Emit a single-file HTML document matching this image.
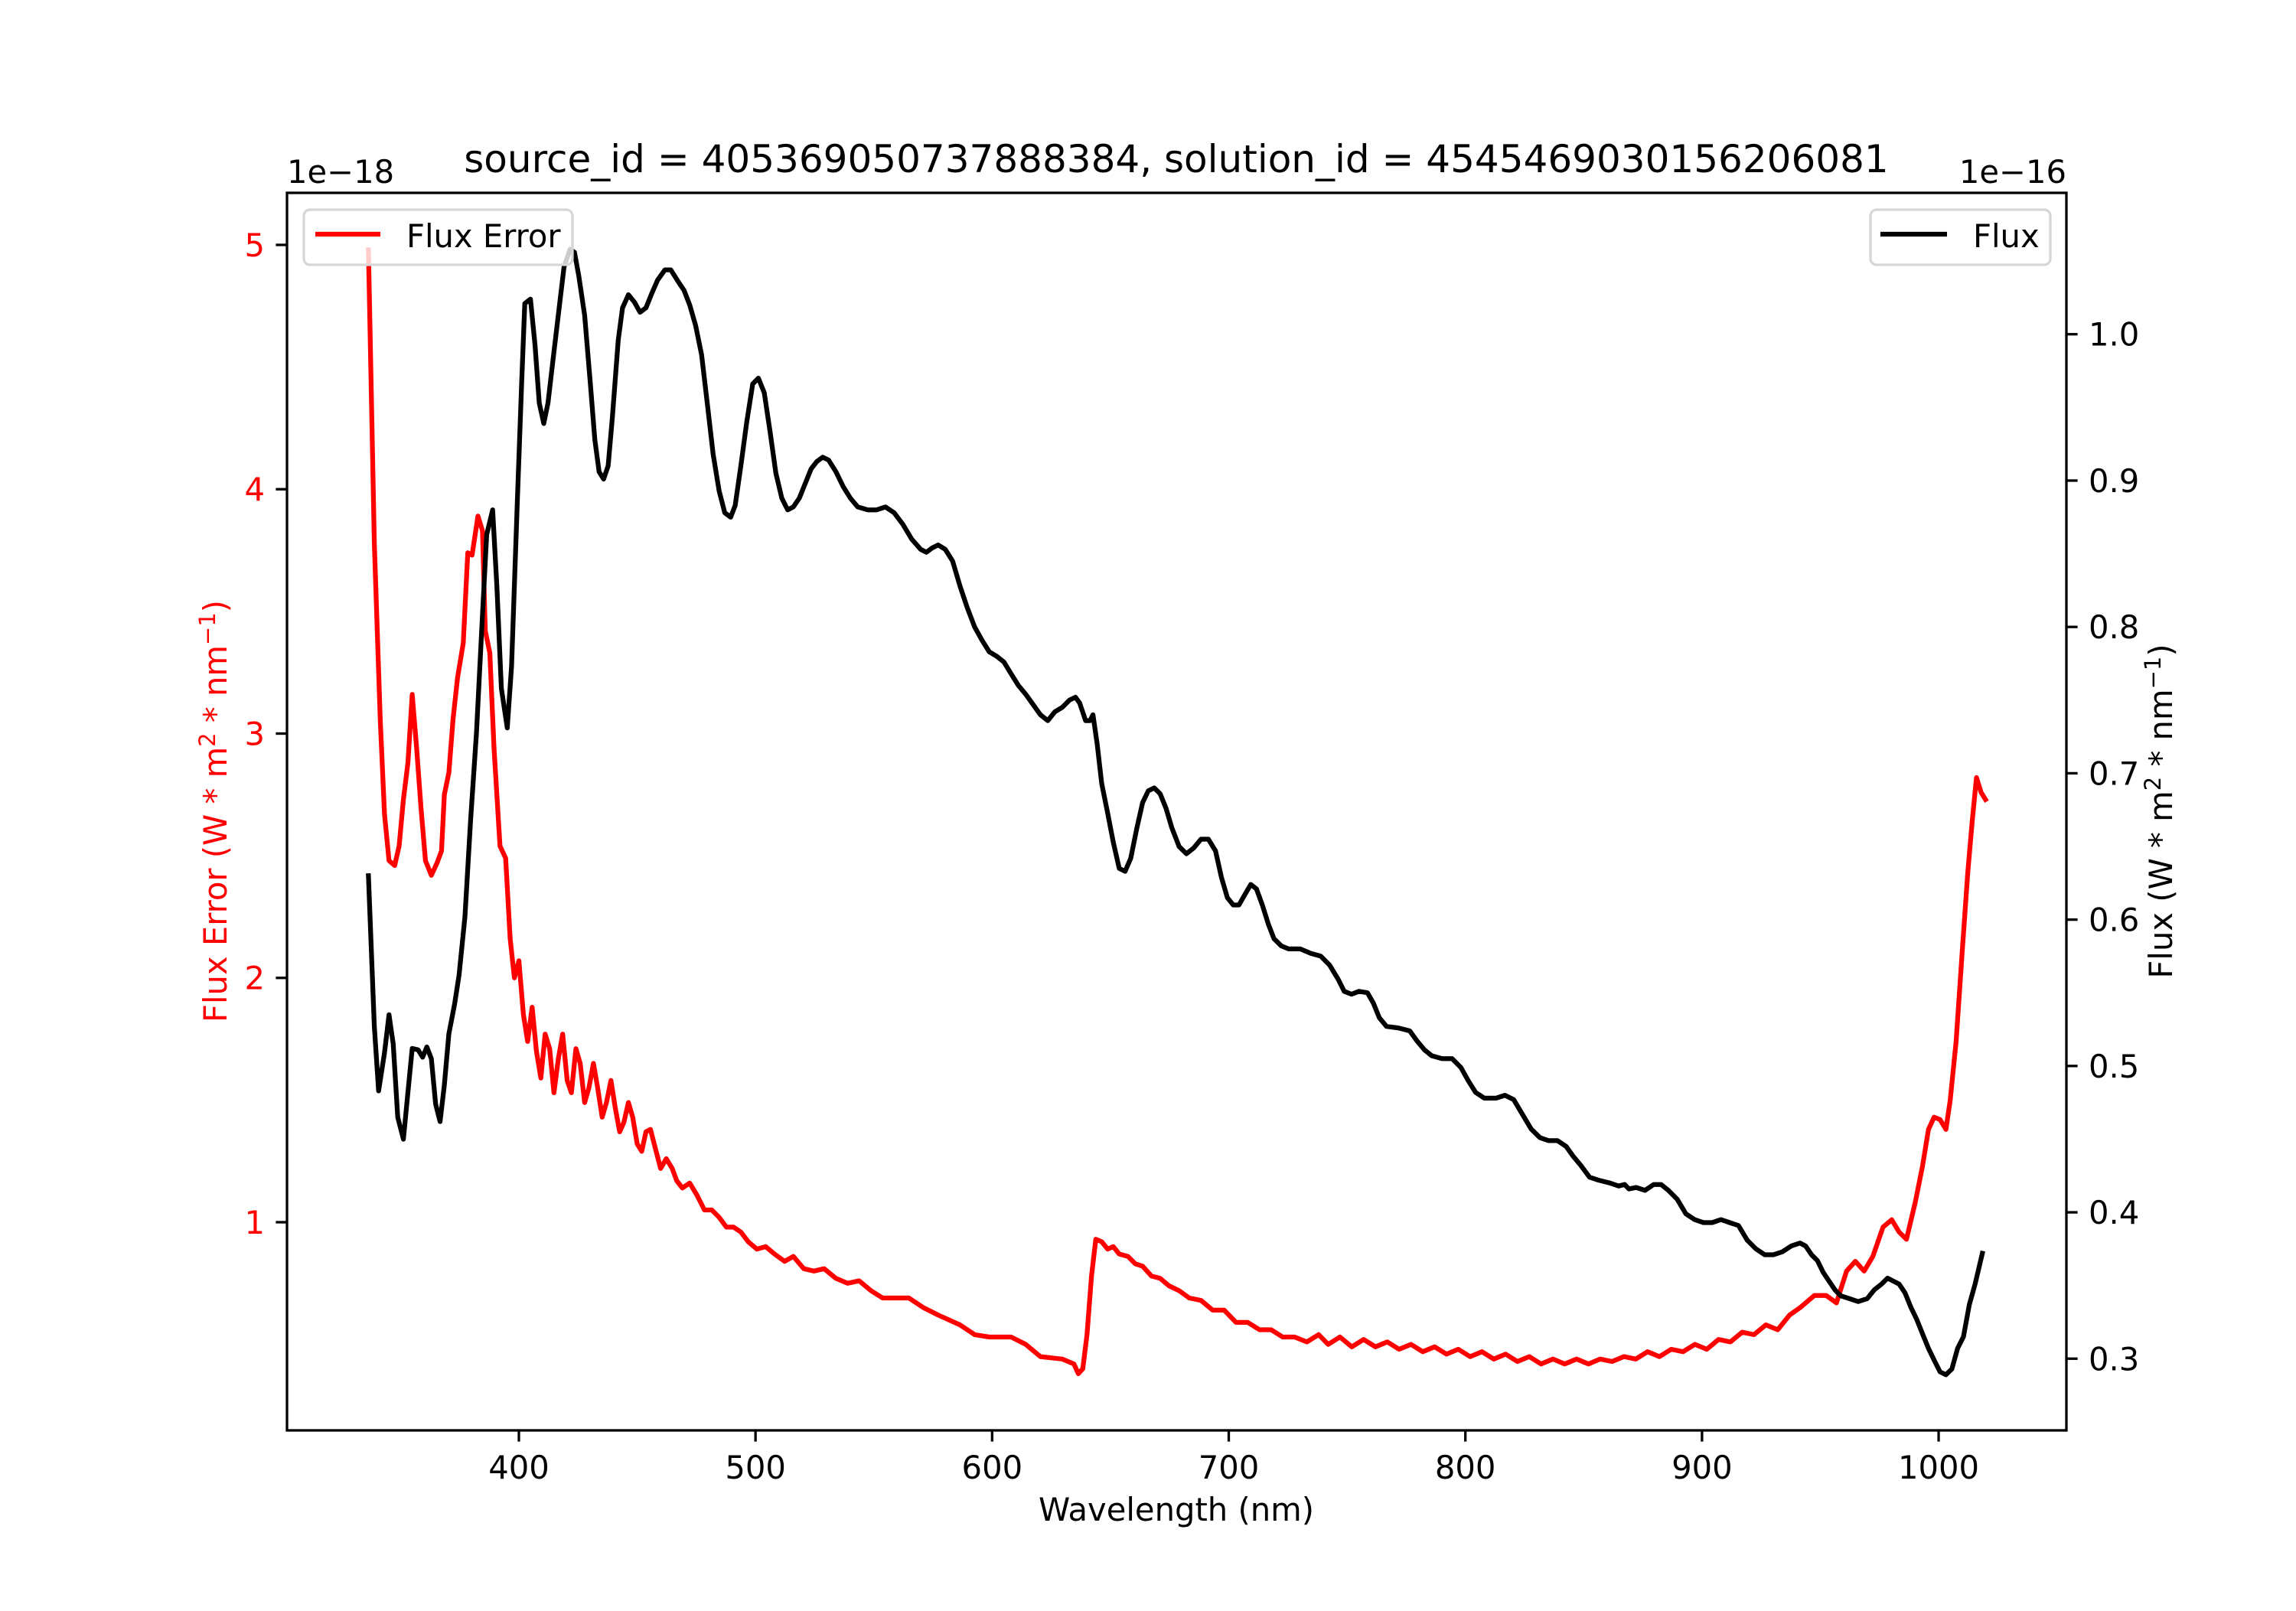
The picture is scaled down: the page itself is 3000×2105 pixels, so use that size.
<!DOCTYPE html>
<html><head><meta charset="utf-8"><style>
html,body{margin:0;padding:0;background:#fff;}
svg text{font-family:"DejaVu Sans","Liberation Sans",sans-serif;}
</style></head><body>
<svg id="chart" width="3000" height="2100" viewBox="0 0 3000 2100" xmlns="http://www.w3.org/2000/svg">
<rect width="3000" height="2100" fill="#fff"/>
<g id="plot"></g>
</svg>
<script>
const errWl=[336.4,338.9,341.4,343.2,345.1,347.5,349.4,351.2,353.1,354.9,356.8,358.6,360.5,363,365.4,367.3,368.5,370.4,372.2,374.1,376.5,378.4,380.2,382.7,384.6,385.8,387.7,389.5,392,394.4,396.3,398.1,400,401.9,403.7,405.6,407.4,409.3,411.1,413,414.8,416.7,418.5,420.4,422.2,424.1,425.9,427.8,429.6,431.5,433.3,435.2,437,438.9,440.7,442.6,444.4,446.3,448.1,450,451.9,453.7,455.6,458,459.9,462.3,464.8,466.7,469.1,472.2,475.3,478.4,481.5,484.6,487.7,490.7,493.8,496.9,500.6,504.3,508,512.3,516,520.4,524.7,529,534,538.9,543.8,548.8,553.7,558.6,564.8,571,577.2,586.4,592.6,598.8,608,614.2,620.4,629.6,634.6,636.4,638.3,640.1,642,643.8,646.3,648.8,651.2,653.7,657.4,660.5,663.6,667.3,671,674.7,679,683.3,688.3,693.2,698.1,703.1,708,713,717.9,722.8,727.8,733,738,742,747,752,757,762,767,772,777,782,787,792,797,802,807,812,817,822,827,832,837,842,847,852,857,862,867,872,877,882,887,892,897,902,907,912,917,922,927,932,937,941.4,947.5,952.5,956.8,961.1,964.8,968.5,972.2,976.5,980.2,983.3,986.4,990.1,993.2,995.7,998.1,1000.6,1003.1,1004.9,1007.4,1009.9,1012.3,1014.2,1016,1017.9,1019.8];
const errVal=[4.98,3.78,3.06,2.67,2.48,2.46,2.54,2.73,2.88,3.16,2.94,2.70,2.48,2.42,2.47,2.52,2.75,2.84,3.06,3.23,3.37,3.74,3.73,3.89,3.83,3.42,3.33,2.94,2.54,2.49,2.16,2.0,2.07,1.85,1.74,1.88,1.70,1.59,1.77,1.71,1.53,1.67,1.77,1.58,1.53,1.71,1.65,1.49,1.55,1.65,1.55,1.43,1.49,1.58,1.47,1.37,1.41,1.49,1.43,1.32,1.29,1.37,1.38,1.29,1.22,1.26,1.22,1.17,1.14,1.16,1.11,1.05,1.05,1.02,0.98,0.98,0.96,0.92,0.89,0.90,0.87,0.84,0.86,0.81,0.80,0.81,0.77,0.75,0.76,0.72,0.69,0.69,0.69,0.65,0.62,0.58,0.54,0.53,0.53,0.50,0.45,0.44,0.42,0.38,0.40,0.54,0.78,0.93,0.92,0.89,0.90,0.87,0.86,0.83,0.82,0.78,0.77,0.74,0.72,0.69,0.68,0.64,0.64,0.59,0.59,0.56,0.56,0.53,0.53,0.51,0.54,0.50,0.53,0.49,0.52,0.49,0.51,0.48,0.50,0.47,0.49,0.46,0.48,0.45,0.47,0.44,0.46,0.43,0.45,0.42,0.44,0.42,0.44,0.42,0.44,0.43,0.45,0.44,0.47,0.45,0.48,0.47,0.50,0.48,0.52,0.51,0.55,0.54,0.58,0.56,0.62,0.65,0.70,0.70,0.67,0.80,0.84,0.80,0.86,0.98,1.01,0.96,0.93,1.08,1.23,1.38,1.43,1.42,1.38,1.50,1.74,2.10,2.43,2.64,2.82,2.76,2.73];
const fluxWl=[336.4,338.9,340.7,343.2,345.1,346.9,348.8,351.2,353.1,354.9,357.4,359.3,361.1,363,364.8,366.7,368.5,370.4,372.8,374.7,377.2,379.6,382.1,384.6,386.4,388.9,390.7,392.6,395.1,396.9,399.4,401.2,402.5,404.9,406.8,408.6,410.5,412.3,414.8,417.3,419.1,421.6,423.5,425.3,427.8,430.2,432.1,433.9,435.8,437.7,439.5,442,443.8,446.3,448.8,451.2,453.7,456.2,458.6,461.7,464.2,467.3,469.8,472.2,474.7,477.2,479.6,482.1,484.6,487,489.5,491.4,493.8,496.3,498.8,501.2,503.7,506.2,508.6,511.1,513.6,516,518.5,521,523.5,525.9,528.4,530.9,534,537,540.1,543.2,547.5,551.2,554.9,558.6,562.3,566,569.8,572.2,574.7,577.2,580.2,583.3,586.4,589.5,592.6,595.7,598.8,601.9,605,608,611.1,614.2,617.3,620.4,623.5,626.5,629.6,632.7,635.2,637,639.5,641.4,642.6,644.4,646.3,648.8,651.2,653.7,656.2,658.6,661.1,663.6,666,668.5,671,673.5,675.9,679,682.1,685.2,688.3,691.4,694.4,696.9,699.4,701.9,704.3,706.8,709.3,711.7,714.2,716.7,719.1,722.2,725.3,730.2,734.6,738.9,742.6,746.3,748.8,751.9,755,758.6,761.1,763.6,766.7,771.6,776.5,779.6,782.7,785.8,790.1,794.4,798.1,801.2,804.3,808,813,816.7,820.4,824.1,827.8,831.5,835.2,838.9,842.6,845.7,848.8,852.5,856.2,861.1,864.8,867.3,869.1,872.2,875.9,879.6,882.7,885.8,889.5,893.2,896.9,900.6,904.3,908,911.7,915.4,919.1,922.8,926.5,930.2,933.9,937.7,941.4,943.8,946.3,948.8,951.2,953.7,956.2,958.6,962.3,966,969.8,972.8,975.9,978.4,980.9,983.3,985.8,988.3,990.7,993.2,995.7,998.1,1000.6,1003.1,1005.6,1008,1010.5,1013,1015.4,1018.5];
const fluxVal=[0.630,0.527,0.483,0.509,0.535,0.515,0.465,0.450,0.482,0.512,0.511,0.506,0.513,0.505,0.474,0.462,0.487,0.522,0.542,0.562,0.602,0.668,0.728,0.808,0.863,0.880,0.828,0.758,0.731,0.773,0.888,0.968,1.021,1.024,0.993,0.953,0.939,0.953,0.988,1.022,1.046,1.058,1.056,1.040,1.013,0.966,0.928,0.906,0.901,0.910,0.943,0.996,1.018,1.027,1.022,1.015,1.018,1.028,1.037,1.044,1.044,1.036,1.030,1.020,1.006,0.986,0.953,0.918,0.893,0.878,0.875,0.883,0.910,0.940,0.966,0.970,0.960,0.933,0.905,0.888,0.880,0.882,0.888,0.898,0.908,0.913,0.916,0.914,0.906,0.896,0.888,0.882,0.880,0.880,0.882,0.878,0.870,0.860,0.853,0.851,0.854,0.856,0.853,0.845,0.828,0.813,0.800,0.791,0.783,0.780,0.776,0.768,0.760,0.754,0.747,0.740,0.736,0.742,0.745,0.750,0.752,0.748,0.736,0.736,0.740,0.720,0.693,0.673,0.653,0.635,0.633,0.642,0.662,0.680,0.688,0.690,0.686,0.676,0.663,0.650,0.645,0.649,0.655,0.655,0.647,0.629,0.615,0.610,0.610,0.617,0.624,0.621,0.610,0.597,0.587,0.582,0.580,0.580,0.577,0.575,0.569,0.559,0.551,0.549,0.551,0.550,0.543,0.533,0.527,0.526,0.524,0.517,0.511,0.507,0.505,0.505,0.499,0.490,0.482,0.478,0.478,0.480,0.477,0.467,0.457,0.451,0.449,0.449,0.445,0.438,0.432,0.424,0.422,0.420,0.418,0.419,0.416,0.417,0.415,0.419,0.419,0.415,0.409,0.399,0.395,0.393,0.393,0.395,0.393,0.391,0.381,0.375,0.371,0.371,0.373,0.377,0.379,0.377,0.371,0.367,0.359,0.353,0.347,0.343,0.341,0.339,0.341,0.347,0.351,0.355,0.353,0.351,0.345,0.335,0.327,0.317,0.307,0.299,0.291,0.289,0.293,0.307,0.315,0.337,0.351,0.372];
const xTicks=[400,500,600,700,800,900,1000];
const leftTicks=[1,2,3,4,5];
const rightTicks=[0.3,0.4,0.5,0.6,0.7,0.8,0.9,1.0];

const L=375,R=2700,T=252,B=1869;
const X0=302,X1=1054,YL0=0.148,YL1=5.213,YR0=0.251,YR1=1.0966;
const xs=v=>L+(v-X0)/(X1-X0)*(R-L);
const yl=v=>B-(v-YL0)/(YL1-YL0)*(B-T);
const yr=v=>B-(v-YR0)/(YR1-YR0)*(B-T);
const NS="http://www.w3.org/2000/svg";
const g=document.getElementById('plot');
function mk(tag,attrs,parent){const e=document.createElementNS(NS,tag);for(const k in attrs)e.setAttribute(k,attrs[k]);(parent||g).appendChild(e);return e;}

const pe=mk('polyline',{points:errWl.map((w,i)=>xs(w).toFixed(1)+','+yl(errVal[i]).toFixed(1)).join(' '),fill:'none',stroke:'#ff0000','stroke-width':6.25,'stroke-linejoin':'round','stroke-linecap':'square'});


const pf=mk('polyline',{points:fluxWl.map((w,i)=>xs(w).toFixed(1)+','+yr(fluxVal[i]).toFixed(1)).join(' '),fill:'none',stroke:'#000','stroke-width':6.25,'stroke-linejoin':'round','stroke-linecap':'square'});



const fr=mk('rect',{x:L,y:T,width:R-L,height:B-T,fill:'none',stroke:'#000','stroke-width':3.3});



xTicks.forEach(t=>{const x=xs(t);
 const l=mk('line',{x1:x,y1:B,x2:x,y2:B+14.6,stroke:'#000','stroke-width':3.3});
 
 
 const tx=mk('text',{x:x,y:B+63,'font-size':41.7,'text-anchor':'middle',fill:'#000'});tx.textContent=t;
 
 
});
leftTicks.forEach(t=>{const y=yl(t);
 const l=mk('line',{x1:L,y1:y,x2:L-14.6,y2:y,stroke:'#000','stroke-width':3.3});
 
 
 const tx=mk('text',{x:L-29,y:y+15,'font-size':41.7,'text-anchor':'end',fill:'#ff0000'});tx.textContent=t;
 
 
});
rightTicks.forEach(t=>{const y=yr(t);
 const l=mk('line',{x1:R,y1:y,x2:R+14.6,y2:y,stroke:'#000','stroke-width':3.3});
 
 
 const tx=mk('text',{x:R+29,y:y+15,'font-size':41.7,'text-anchor':'start',fill:'#000'});tx.textContent=t.toFixed(1);
 
 
});
</script>
<svg style="position:absolute;left:0;top:0" width="3000" height="2100">
<text x="1537" y="225" font-size="50" text-anchor="middle" font-family="DejaVu Sans, Liberation Sans, sans-serif">source_id = 405369050737888384, solution_id = 4545469030156206081</text>
<text x="375" y="239" font-size="41.7" font-family="DejaVu Sans, Liberation Sans, sans-serif">1e−18</text>
<text x="2700" y="239" font-size="41.7" text-anchor="end" font-family="DejaVu Sans, Liberation Sans, sans-serif">1e−16</text>
<text x="1537" y="1987" font-size="41.7" text-anchor="middle" font-family="DejaVu Sans, Liberation Sans, sans-serif">Wavelength (nm)</text>
<text transform="translate(296,1060) rotate(-90)" font-size="41.7" text-anchor="middle" fill="#ff0000" font-family="DejaVu Sans, Liberation Sans, sans-serif">Flux Error (W * m<tspan font-size="29" dy="-15">2</tspan><tspan dy="15"> * nm</tspan><tspan font-size="29" dy="-15">−1</tspan><tspan dy="15">)</tspan></text>
<text transform="translate(2838,1060) rotate(-90)" font-size="41.7" text-anchor="middle" fill="#000" font-family="DejaVu Sans, Liberation Sans, sans-serif">Flux (W * m<tspan font-size="29" dy="-15">2</tspan><tspan dy="15"> * nm</tspan><tspan font-size="29" dy="-15">−1</tspan><tspan dy="15">)</tspan></text>
<g>
<rect x="397" y="274" width="351" height="72" rx="8" fill="#fff" fill-opacity="0.8" stroke="#d6d6d6" stroke-width="3.3"/>
<line x1="412" y1="306" x2="497" y2="306" stroke="#ff0000" stroke-width="6.25"/>
<text x="531" y="323" font-size="41.7" font-family="DejaVu Sans, Liberation Sans, sans-serif">Flux Error</text>
</g>
<g>
<rect x="2444" y="274" width="235" height="72" rx="8" fill="#fff" fill-opacity="0.8" stroke="#d6d6d6" stroke-width="3.3"/>
<line x1="2457" y1="306" x2="2544" y2="306" stroke="#000" stroke-width="6.25"/>
<text x="2578" y="323" font-size="41.7" font-family="DejaVu Sans, Liberation Sans, sans-serif">Flux</text>
</g>
</svg>
</body></html>
